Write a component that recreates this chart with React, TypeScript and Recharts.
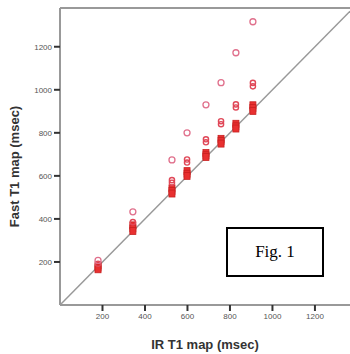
import { ScatterChart, Scatter, XAxis, YAxis, ReferenceLine } from 'recharts';

// IR T1 map value for each phantom column (msec)
const irValues = [179, 343, 527, 598, 687, 758, 828, 908];
// Fast T1 map values (msec)
const outlierValues = [207, 433, 674, 800, 930, 1033, 1172, 1316];
const midValues = [
  [192],
  [385],
  [580, 568],
  [676, 662],
  [770, 756],
  [854, 840],
  [932, 918],
  [1032, 1016],
];
const squareValues = [
  [184, 174, 166],
  [370, 356, 344],
  [542, 530, 518],
  [622, 610, 600],
  [706, 696, 688],
  [772, 762, 750],
  [842, 830, 820],
  [928, 915, 902],
];
const xTicks = [200, 400, 600, 800, 1000, 1200];
const yTicks = [200, 400, 600, 800, 1000, 1200];

const outlierData = irValues.map((x, i) => ({ x, y: outlierValues[i] }));
const midData = irValues.flatMap((x, i) => midValues[i].map((y) => ({ x, y })));
const squareData = irValues.flatMap((x, i) => squareValues[i].map((y) => ({ x, y })));

const OpenCircle = (props: any) => (
  <circle cx={props.cx} cy={props.cy} r={3} fill="none" stroke="#e0708c" strokeWidth={1.3} />
);
const MidCircle = (props: any) => (
  <circle cx={props.cx} cy={props.cy} r={2.6} fill="none" stroke="#e04858" strokeWidth={1.4} />
);
const Square = (props: any) => (
  <rect x={props.cx - 3} y={props.cy - 3.5} width={6} height={7} fill="#e83030" stroke="#c82020" strokeWidth={0.8} />
);

const tickStyle = { fontSize: 8, fill: '#555', fontFamily: 'Liberation Sans, Arial, sans-serif' };

export default function App() {
  return (
    <div style={{ position: 'fixed', left: 0, top: 0, width: 350, height: 354, background: '#fff' }}>
      <ScatterChart width={350} height={354} margin={{ top: 8, right: 0, bottom: 0, left: 0 }}>
        <XAxis
          type="number"
          dataKey="x"
          domain={[0, 1365]}
          ticks={xTicks}
          height={49}
          tick={tickStyle}
          tickSize={6}
          tickMargin={2}
          axisLine={{ stroke: '#999', strokeWidth: 2 }}
          tickLine={{ stroke: '#333', strokeWidth: 2 }}
          allowDataOverflow
          label={{
            value: 'IR T1 map (msec)',
            position: 'insideBottom',
            offset: 5,
            style: { fontSize: 13, fontWeight: 'bold', fill: '#333', fontFamily: 'Liberation Sans, Arial, sans-serif' },
          }}
        />
        <YAxis
          type="number"
          dataKey="y"
          domain={[0, 1380]}
          ticks={yTicks}
          width={60}
          tick={tickStyle}
          tickSize={6}
          tickMargin={2}
          axisLine={{ stroke: '#999', strokeWidth: 2 }}
          tickLine={{ stroke: '#333', strokeWidth: 2 }}
          allowDataOverflow
          label={{
            value: 'Fast T1 map (msec)',
            angle: -90,
            position: 'insideLeft',
            offset: 14,
            dy: 10,
            style: { fontSize: 13, fontWeight: 'bold', fill: '#333', fontFamily: 'Liberation Sans, Arial, sans-serif', textAnchor: 'middle' },
          }}
        />
        <ReferenceLine y={1380} stroke="#999" strokeWidth={2} />
        <ReferenceLine
          segment={[{ x: 0, y: 0 }, { x: 1365, y: 1365 }]}
          stroke="#999"
          strokeWidth={1.5}
        />
        <Scatter data={squareData} shape={Square} isAnimationActive={false} />
        <Scatter data={midData} shape={MidCircle} isAnimationActive={false} />
        <Scatter data={outlierData} shape={OpenCircle} isAnimationActive={false} />
      </ScatterChart>
      <div
        style={{
          position: 'absolute',
          left: 226,
          top: 227,
          width: 94,
          height: 46,
          border: '2px solid #000',
          display: 'flex',
          alignItems: 'center',
          justifyContent: 'center',
          fontFamily: 'Liberation Serif, Times New Roman, serif',
          fontSize: 17,
          color: '#000',
          background: '#fff',
        }}
      >
        Fig. 1
      </div>
    </div>
  );
}
